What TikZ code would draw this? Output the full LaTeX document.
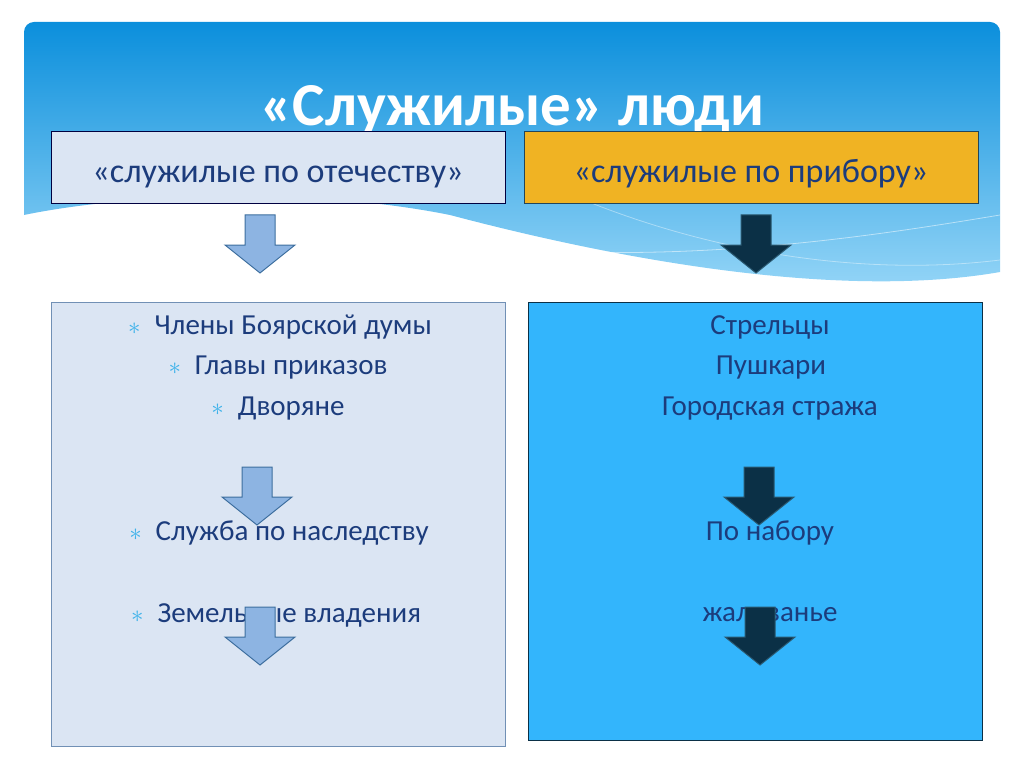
\documentclass[tikz,border=0pt]{standalone}
\usepackage{fontspec}
\setmainfont{Carlito}
\usetikzlibrary{positioning}
\definecolor{hdrtop}{HTML}{0B8FDC}
\definecolor{hdrbot}{HTML}{9AD8F8}
\definecolor{paleblue}{HTML}{DBE5F3}
\definecolor{gold}{HTML}{F0B323}
\definecolor{brightblue}{HTML}{33B5FC}
\definecolor{navytext}{HTML}{1C3C7C}
\definecolor{starblue}{HTML}{3DB2EA}
\definecolor{lightarrow}{HTML}{8DB4E2}
\definecolor{lightedge}{HTML}{3D6E9E}
\definecolor{darkarrow}{HTML}{0B3046}
\definecolor{darkedge}{HTML}{2A5870}
\newcommand{\bul}{{\color{starblue}\fontsize{26}{26}\selectfont$\ast$}\hspace{14pt}}
\begin{document}
\begin{tikzpicture}[x=1pt,y=-1pt,
    headbox/.style={draw, line width=1pt, minimum width=454pt, minimum height=72pt,
      text height=35pt, text depth=5pt,
      font=\fontsize{34}{38}\selectfont, text=navytext},
    listtxt/.style={font=\fontsize{29}{32}\selectfont, text=navytext},
    lightarr/.style={fill=lightarrow, draw=lightedge, line width=1pt},
    darkarr/.style={fill=darkarrow, draw=darkedge, line width=1pt}]
  \useasboundingbox (0,0) rectangle (1024,767);

  % header with wave
  \shade[top color=hdrtop, bottom color=hdrbot]
    (24,215) [rounded corners=10pt]-- (24,22) -- (1000,22) [sharp corners]-- (1000,272)
    .. controls (840,300) and (620,260) .. (450,215)
    .. controls (300,185) and (120,195) .. (24,215) -- cycle;
  \draw[white, opacity=0.5, line width=0.8pt] (420,240) .. controls (650,270) and (850,240) .. (1000,215);
  \draw[white, opacity=0.4, line width=0.8pt] (560,190) .. controls (720,260) and (880,275) .. (1000,260);
  \node[font=\fontsize{61}{66}\selectfont\bfseries, text=white] (title) at (512,110) {«Служилые» люди};

  % two headings
  \node[headbox, fill=paleblue, draw=black!75!blue] (fatherland) at (278,168) {«служилые по отечеству»};
  \node[headbox, fill=gold, draw=darkedge!80!black] (device) at (751,168) {«служилые по прибору»};

  % two big boxes
  \node[draw=lightarrow!80!black, fill=paleblue, line width=1pt, minimum width=454pt, minimum height=444pt] (leftbox) at (278,524) {};
  \node[draw=darkarrow, fill=brightblue, line width=1pt, minimum width=454pt, minimum height=438pt] (rightbox) at (755,521) {};

  % left list
  \node[listtxt] (boyars) at (280,327) {\bul Члены Боярской думы};
  \node[listtxt] (heads) at (278,368) {\bul Главы приказов};
  \node[listtxt] (nobles) at (278,409) {\bul Дворяне};
  \node[listtxt] (heredity) at (279,533) {\bul Служба по наследству};
  \node[listtxt] (lands) at (276,615) {\bul Земельные владения};

  % right list
  \node[listtxt] (streltsy) at (770,327) {Стрельцы};
  \node[listtxt] (gunners) at (771,368) {Пушкари};
  \node[listtxt] (guard) at (770,409) {Городская стража};
  \node[listtxt] (recruit) at (770,533) {По набору};
  \node[listtxt] (salary) at (770,615) {жалованье};

  % down arrows
  \foreach \cx/\ty/\sty in {260/215/lightarr, 257/467/lightarr, 260/607/lightarr,
                            756/215/darkarr, 759/467/darkarr, 760/607/darkarr} {
    \draw[\sty] (\cx-15,\ty) -- (\cx+15,\ty) -- (\cx+15,\ty+30) -- (\cx+35,\ty+30)
      -- (\cx,\ty+58) -- (\cx-35,\ty+30) -- (\cx-15,\ty+30) -- cycle;
  }
\end{tikzpicture}
\end{document}
